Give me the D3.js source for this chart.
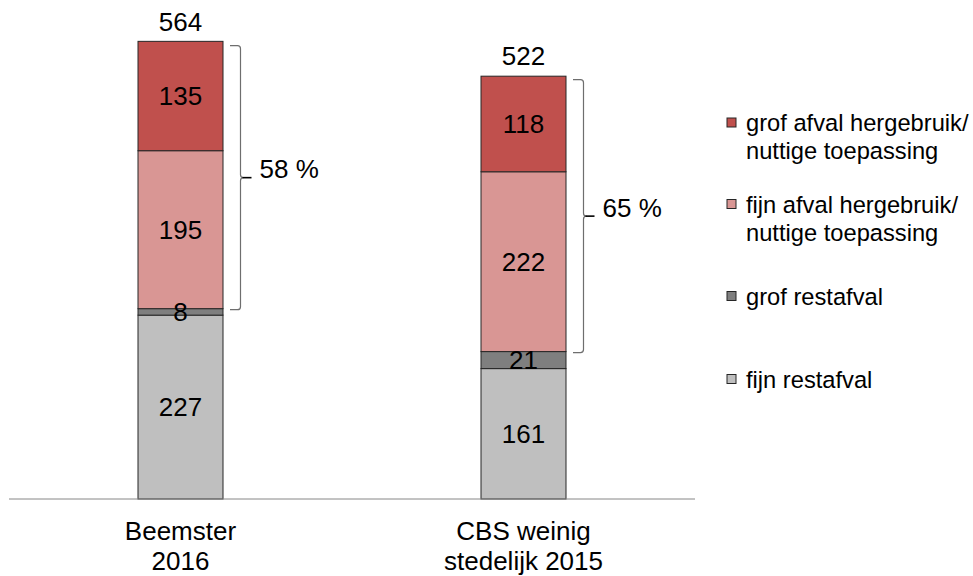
<!DOCTYPE html>
<html>
<head>
<meta charset="utf-8">
<script src="https://cdn.jsdelivr.net/npm/d3@7"></script>
<style>
  html, body { margin: 0; padding: 0; background: #fff; }
  svg { display: block; font-family: "Liberation Sans", Arial, sans-serif; }
</style>
</head>
<body>
<svg id="chart" width="973" height="576"></svg>
<script>
// ---- data ----
const categories = [["Beemster", "2016"], ["CBS weinig", "stedelijk 2015"]];
const categoryKeys = ["Beemster 2016", "CBS weinig stedelijk 2015"];
const seriesNames = [
  "fijn restafval",
  "grof restafval",
  "fijn afval hergebruik/ nuttige toepassing",
  "grof afval hergebruik/ nuttige toepassing"
];
const fijnRestafval   = [227, 161];
const grofRestafval   = [8, 21];
const fijnHergebruik  = [195, 222];
const grofHergebruik  = [135, 118];
const totals          = [564, 522];
const legendLines = [
  ["grof afval hergebruik/", "nuttige toepassing"],
  ["fijn afval hergebruik/", "nuttige toepassing"],
  ["grof restafval"],
  ["fijn restafval"]
];

// ---- styles / layout ----
const colors = ["#BFBFBF", "#7F7F7F", "#D99694", "#C0504D"];
const svg = d3.select("#chart");

const x = d3.scalePoint().domain(categoryKeys).range([9, 695]).padding(0.5);
const y = d3.scaleLinear().domain([0, 600]).range([499, 13]);
const barW = 85;
const fs = 26;

const rows = categoryKeys.map((k, i) => ({
  key: k,
  [seriesNames[0]]: fijnRestafval[i],
  [seriesNames[1]]: grofRestafval[i],
  [seriesNames[2]]: fijnHergebruik[i],
  [seriesNames[3]]: grofHergebruik[i]
}));
const stack = d3.stack().keys(seriesNames)(rows);

// bars
stack.forEach((layer, li) => {
  const g = svg.append("g");
  layer.forEach((d, i) => {
    const cx = x(categoryKeys[i]);
    g.append("rect")
      .attr("x", cx - barW / 2)
      .attr("y", y(d[1]))
      .attr("width", barW)
      .attr("height", y(d[0]) - y(d[1]))
      .attr("fill", colors[li])
      .attr("stroke", "#262626")
      .attr("stroke-width", 1);
  });
});

// segment labels
stack.forEach((layer, li) => {
  layer.forEach((d, i) => {
    const cx = x(categoryKeys[i]);
    svg.append("text")
      .attr("x", cx)
      .attr("y", (y(d[0]) + y(d[1])) / 2)
      .attr("dy", "0.36em")
      .attr("text-anchor", "middle")
      .attr("font-size", fs)
      .attr("fill", "#000")
      .text(d[1] - d[0]);
  });
});

// totals
totals.forEach((t, i) => {
  svg.append("text")
    .attr("x", x(categoryKeys[i]))
    .attr("y", y(t) - 11)
    .attr("text-anchor", "middle")
    .attr("font-size", fs)
    .attr("fill", "#000")
    .text(t);
});

// axis line
svg.append("line")
  .attr("x1", 9).attr("x2", 695)
  .attr("y1", y(0)).attr("y2", y(0))
  .attr("stroke", "#868686").attr("stroke-width", 1);

// category labels
categories.forEach((lines, i) => {
  const t = svg.append("text")
    .attr("x", x(categoryKeys[i]))
    .attr("y", 540)
    .attr("text-anchor", "middle")
    .attr("font-size", fs)
    .attr("fill", "#000");
  lines.forEach((ln, j) => {
    t.append("tspan").attr("x", x(categoryKeys[i])).attr("dy", j === 0 ? 0 : 30).text(ln);
  });
});

// braces with percentages
categoryKeys.forEach((k, i) => {
  const right = x(k) + barW / 2;
  const x0 = right + 7, x1 = right + 17.5;
  const recyc = fijnHergebruik[i] + grofHergebruik[i];
  const base = fijnRestafval[i] + grofRestafval[i];
  const yt = y(totals[i]) + 3.5;
  const yb = y(base) + 1;
  const ym = (yt + yb) / 2;
  const r = 3;
  const p = `M${x0},${yt} L${x1 - r},${yt} Q${x1},${yt} ${x1},${yt + r} L${x1},${ym - r} Q${x1},${ym} ${x1 + r},${ym} Q${x1},${ym} ${x1},${ym + r} L${x1},${yb - r} Q${x1},${yb} ${x1 - r},${yb} L${x0},${yb}`;
  svg.append("path").attr("d", p)
    .attr("fill", "none").attr("stroke", "#6e6e6e").attr("stroke-width", 1.2);
  svg.append("line")
    .attr("x1", x1 + 2).attr("x2", x1 + 11)
    .attr("y1", ym).attr("y2", ym)
    .attr("stroke", "#000").attr("stroke-width", 1.6);
  svg.append("text")
    .attr("x", x1 + 19)
    .attr("y", ym + 0.5)
    .attr("font-size", fs)
    .attr("fill", "#000")
    .text(Math.floor(recyc / totals[i] * 100) + " %");
});

// legend
const legendCenters = [122.5, 204, 296, 379];
const legendColors = [colors[3], colors[2], colors[1], colors[0]];
legendLines.forEach((lines, i) => {
  const cy = legendCenters[i];
  svg.append("rect")
    .attr("x", 727).attr("y", cy - 4.5)
    .attr("width", 9).attr("height", 9)
    .attr("fill", legendColors[i])
    .attr("stroke", "#262626").attr("stroke-width", 1);
  const t = svg.append("text")
    .attr("x", 746)
    .attr("y", cy + 8.5)
    .attr("font-size", 23.7)
    .attr("fill", "#000");
  lines.forEach((ln, j) => {
    t.append("tspan").attr("x", 746).attr("dy", j === 0 ? 0 : 28).text(ln);
  });
});
</script>
</body>
</html>
